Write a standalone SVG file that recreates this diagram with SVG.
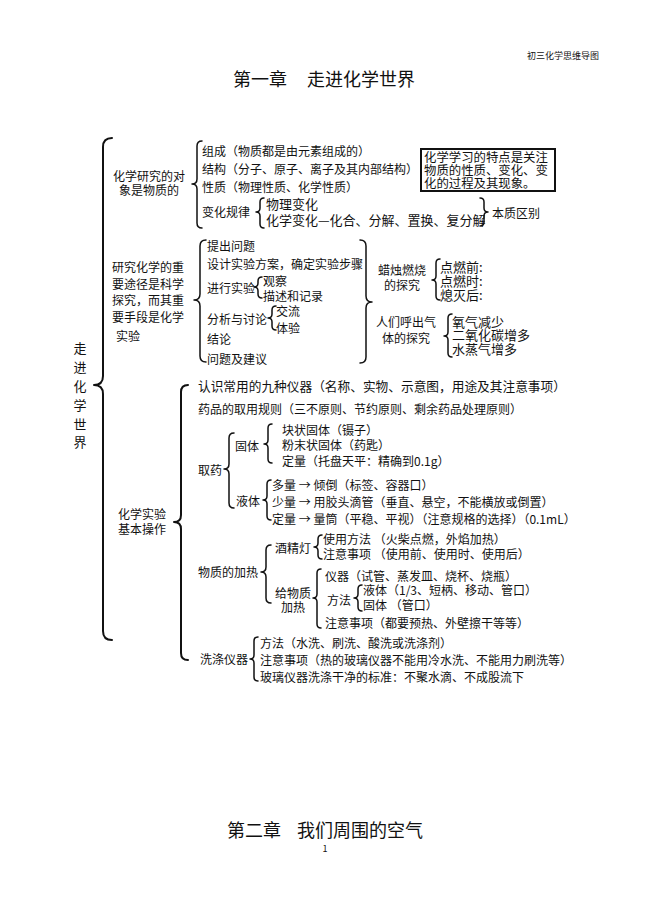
<svg xmlns="http://www.w3.org/2000/svg" width="650" height="920" viewBox="0 0 650 920">
<style>
text{font-family:"Noto Sans CJK SC","Noto Sans",sans-serif;fill:#111;dominant-baseline:central;font-size:12px}
.t{font-size:18px}
.h{font-size:9px}
.m{font-size:13px}
.n{font-size:12.4px}
.c{text-anchor:middle}
.b{fill:none;stroke:#111;stroke-width:1.5;stroke-linecap:round;stroke-linejoin:round}
.bb{stroke-width:2}
</style>
<rect width="650" height="920" fill="#fff"/>
<g id="header">
<text class="h" x="527" y="55">初三化学思维导图</text>
<text class="t" x="233" y="78">第一章</text>
<text class="t" x="307" y="78">走进化学世界</text>
</g>
<g id="connectors">
<path class="b bb" d="M112,138 Q103,138 103,147 L103,376 Q103,385 94,385 Q103,385 103,394 L103,631 Q103,640 112,640"/>
<path class="b" d="M202,141 Q197,141 197,146 L197,179 Q197,184 192,184 Q197,184 197,189 L197,223 Q197,228 202,228"/>
<path class="b" d="M264,198 Q260,198 260,202 L260,208 Q260,212 256,212 Q260,212 260,216 L260,224 Q260,228 264,228"/>
<path class="b" d="M480,198 Q484,198 484,202 L484,208 Q484,212 488,212 Q484,212 484,216 L484,222 Q484,226 480,226"/>
<path class="b" d="M206,240 Q200,240 200,246 L200,294 Q200,300 194,300 Q200,300 200,306 L200,356 Q200,362 206,362"/>
<path class="b" d="M262,277 Q258,277 258,281 L258,283 Q258,287 254,287 Q258,287 258,291 L258,294 Q258,298 262,298"/>
<path class="b" d="M276,306 Q272,306 272,310 L272,314 Q272,318 268,318 Q272,318 272,322 L272,326 Q272,330 276,330"/>
<path class="b" d="M360,240 Q366,240 366,246 L366,296 Q366,302 372,302 Q366,302 366,308 L366,357 Q366,363 360,363"/>
<path class="b" d="M440,259 Q436,259 436,263 L436,276 Q436,280 432,280 Q436,280 436,284 L436,296 Q436,300 440,300"/>
<path class="b" d="M452,314 Q448,314 448,318 L448,332 Q448,336 444,336 Q448,336 448,340 L448,353 Q448,357 452,357"/>
<path class="b bb" d="M188,385 Q181,385 181,392 L181,515 Q181,522 174,522 Q181,522 181,529 L181,653 Q181,660 188,660"/>
<path class="b" d="M234,433 Q229,433 229,438 L229,464 Q229,469 224,469 Q229,469 229,474 L229,503 Q229,508 234,508"/>
<path class="b" d="M272,424 Q268,424 268,428 L268,440 Q268,444 264,444 Q268,444 268,448 L268,459 Q268,463 272,463"/>
<path class="b" d="M271,480 Q267,480 267,484 L267,496 Q267,500 263,500 Q267,500 267,504 L267,516 Q267,520 271,520"/>
<path class="b" d="M271,545 Q266,545 266,550 L266,567 Q266,572 261,572 Q266,572 266,577 L266,598 Q266,603 271,603"/>
<path class="b" d="M322,535 Q318,535 318,539 L318,543 Q318,547 314,547 Q318,547 318,551 L318,555 Q318,559 322,559"/>
<path class="b" d="M321,569 Q317,569 317,573 L317,594 Q317,598 313,598 Q317,598 317,602 L317,624 Q317,628 321,628"/>
<path class="b" d="M362,585 Q358,585 358,589 L358,594 Q358,598 354,598 Q358,598 358,602 L358,607 Q358,611 362,611"/>
<path class="b" d="M258,637 Q254,637 254,641 L254,655 Q254,659 250,659 Q254,659 254,663 L254,677 Q254,681 258,681"/>
</g>
<g id="root">
<text class="m c" x="80" y="347">走</text>
<text class="m c" x="80" y="366">进</text>
<text class="m c" x="80" y="385">化</text>
<text class="m c" x="80" y="404">学</text>
<text class="m c" x="80" y="423">世</text>
<text class="m c" x="80" y="441">界</text>
</g>
<g id="sec1">
<text class="c" x="149" y="175">化学研究的对</text>
<text class="c" x="149" y="189">象是物质的</text>
<text x="202" y="150">组成（物质都是由元素组成的）</text>
<text x="202" y="168">结构（分子、原子、离子及其内部结构）</text>
<text x="202" y="186">性质（物理性质、化学性质）</text>
<text x="202" y="211">变化规律</text>
<text class="m" x="266" y="203">物理变化</text>
<text class="m" x="266" y="219">化学变化—化合、分解、置换、复分解</text>
<text x="492" y="212">本质区别</text>
</g>
<g id="note">
<rect x="421" y="149" width="134" height="42" fill="none" stroke="#111" stroke-width="2"/>
<text class="n" x="424" y="157">化学学习的特点是关注</text>
<text class="n" x="424" y="170">物质的性质、变化、变</text>
<text class="n" x="424" y="183">化的过程及其现象。</text>
</g>
<g id="sec2">
<text x="112" y="266">研究化学的重</text>
<text x="112" y="283">要途径是科学</text>
<text x="112" y="299">探究，而其重</text>
<text x="112" y="316">要手段是化学</text>
<text x="116" y="335">实验</text>
<text x="207" y="245">提出问题</text>
<text x="207" y="263">设计实验方案，确定实验步骤</text>
<text x="207" y="287">进行实验</text>
<text x="263" y="280">观察</text>
<text x="263" y="295">描述和记录</text>
<text x="207" y="318">分析与讨论</text>
<text x="276" y="310">交流</text>
<text x="276" y="327">体验</text>
<text x="207" y="338">结论</text>
<text x="207" y="358">问题及建议</text>
</g>
<g id="candle">
<text class="c" x="402" y="269">蜡烛燃烧</text>
<text class="c" x="402" y="284">的探究</text>
<text class="m" x="440" y="266">点燃前:</text>
<text class="m" x="440" y="280">点燃时:</text>
<text class="m" x="440" y="294">熄灭后:</text>
</g>
<g id="breath">
<text class="c" x="406" y="321">人们呼出气</text>
<text class="c" x="406" y="337">体的探究</text>
<text class="m" x="452" y="321">氧气减少</text>
<text class="m" x="452" y="334">二氧化碳增多</text>
<text class="m" x="452" y="348">水蒸气增多</text>
</g>
<g id="sec3">
<text class="c" x="142" y="513">化学实验</text>
<text class="c" x="142" y="528">基本操作</text>
<text x="198" y="385" style="font-size:12.7px">认识常用的九种仪器（名称、实物、示意图，用途及其注意事项）</text>
<text x="198" y="408">药品的取用规则（三不原则、节约原则、剩余药品处理原则）</text>
<text x="198" y="469">取药</text>
<text x="235" y="445">固体</text>
<text x="282" y="429">块状固体（镊子）</text>
<text x="282" y="444">粉末状固体（药匙）</text>
<text x="282" y="460">定量（托盘天平：精确到0.1g）</text>
<text x="236" y="500">液体</text>
<text x="272" y="484">多量 → 倾倒（标签、容器口）</text>
<text x="272" y="501">少量 → 用胶头滴管（垂直、悬空，不能横放或倒置）</text>
<text x="272" y="518">定量 → 量筒（平稳、平视）（注意规格的选择）（0.1mL）</text>
</g>
<g id="heating">
<text x="198" y="571">物质的加热</text>
<text x="275" y="547">酒精灯</text>
<text x="323" y="538">使用方法 （火柴点燃，外焰加热）</text>
<text x="323" y="553">注意事项 （使用前、使用时、使用后）</text>
<text class="c" x="293" y="592">给物质</text>
<text class="c" x="293" y="606">加热</text>
<text x="325" y="575">仪器（试管、蒸发皿、烧杯、烧瓶）</text>
<text x="327" y="599">方法</text>
<text x="363" y="589">液体（1/3、短柄、移动、管口）</text>
<text x="363" y="604">固体 （管口）</text>
<text x="325" y="622">注意事项（都要预热、外壁擦干等等）</text>
</g>
<g id="washing">
<text x="200" y="658">洗涤仪器</text>
<text x="260" y="642">方法（水洗、刷洗、酸洗或洗涤剂）</text>
<text x="260" y="659">注意事项（热的玻璃仪器不能用冷水洗、不能用力刷洗等）</text>
<text x="260" y="676">玻璃仪器洗涤干净的标准：不聚水滴、不成股流下</text>
</g>
<g id="footer">
<text class="t" x="227" y="829">第二章</text>
<text class="t" x="297" y="829">我们周围的空气</text>
<text class="h c" x="325" y="848">1</text>
</g>
</svg>
